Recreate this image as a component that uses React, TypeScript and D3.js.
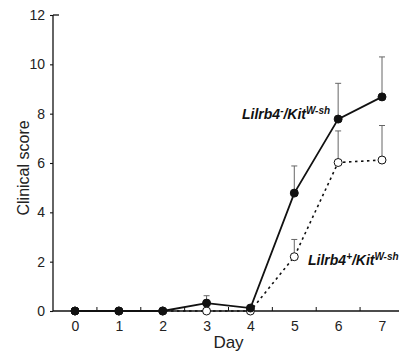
import React, { useRef, useEffect } from "react";
import * as d3 from "d3";

// data
const days = [0, 1, 2, 3, 4, 5, 6, 7];
const knockoutMean = [0, 0, 0, 0.32, 0.12, 4.78, 7.78, 8.68];
const knockoutUpper = [0, 0, 0, 0.62, 0.12, 5.88, 9.23, 10.3];
const wildMean = [0, 0, 0, 0, 0, 2.2, 6.02, 6.12];
const wildUpper = [0, 0, 0, 0, 0, 2.9, 7.3, 7.52];
const yTicks = [0, 2, 4, 6, 8, 10, 12];

const W = 399;
const H = 352;
const FONT = "'Liberation Sans', Arial, sans-serif";

const App = () => {
  const svgRef = useRef<SVGSVGElement>(null);

  useEffect(() => {
    const svg = d3.select(svgRef.current);
    svg.selectAll("*").remove();

    const x = d3.scaleLinear().domain([0, 7]).range([75, 382]);
    const y = d3.scaleLinear().domain([0, 12]).range([311, 15]);
    const axisX = 53;

    // y axis
    const yAxis = svg
      .append("g")
      .attr("transform", `translate(${axisX},0)`)
      .call(d3.axisLeft(y).tickValues(yTicks).tickSize(3).tickPadding(5));
    yAxis.select(".domain").attr("stroke", "#111").attr("stroke-width", 1.3).attr("d", `M0,${y(0)}V${y(12)}`);
    yAxis.selectAll(".tick line").attr("stroke", "#111").attr("stroke-width", 1.1);
    yAxis.selectAll(".tick text").attr("font-family", FONT).attr("font-size", 14).attr("fill", "#222");
    // top cap
    svg
      .append("line")
      .attr("x1", axisX)
      .attr("x2", axisX + 6)
      .attr("y1", y(12))
      .attr("y2", y(12))
      .attr("stroke", "#111")
      .attr("stroke-width", 1.3);

    // x axis
    svg
      .append("line")
      .attr("x1", axisX)
      .attr("x2", W)
      .attr("y1", y(0))
      .attr("y2", y(0))
      .attr("stroke", "#111")
      .attr("stroke-width", 1.3);
    const xAxis = svg
      .append("g")
      .attr("transform", `translate(0,${y(0)})`)
      .call(d3.axisBottom(x).tickValues(days).tickFormat(d3.format("d")).tickSize(0).tickPadding(10));
    xAxis.select(".domain").remove();
    xAxis.selectAll(".tick text").attr("font-family", FONT).attr("font-size", 14).attr("fill", "#222");
    svg
      .selectAll(".xminor")
      .data(days.slice(0, 7).map((d) => d + 0.5))
      .enter()
      .append("line")
      .attr("x1", (d) => x(d))
      .attr("x2", (d) => x(d))
      .attr("y1", y(0))
      .attr("y2", y(0) - 4)
      .attr("stroke", "#111")
      .attr("stroke-width", 1);

    // axis titles
    svg
      .append("text")
      .attr("transform", `translate(29,${y(5.8)}) rotate(-90)`)
      .attr("text-anchor", "middle")
      .attr("font-family", FONT)
      .attr("font-size", 16)
      .attr("fill", "#222")
      .text("Clinical score");
    svg
      .append("text")
      .attr("x", x(3.5))
      .attr("y", 348)
      .attr("text-anchor", "middle")
      .attr("font-family", FONT)
      .attr("font-size", 17)
      .attr("fill", "#222")
      .text("Day");

    const drawSeries = (mean: number[], upper: number[], filled: boolean) => {
      const pts = days.map((d, i) => ({ d, m: mean[i], u: upper[i] }));
      const line = d3
        .line<{ d: number; m: number }>()
        .x((p) => x(p.d))
        .y((p) => y(p.m));
      // error bars
      const eb = pts.filter((p) => p.u - p.m > 0.05);
      svg
        .selectAll(null)
        .data(eb)
        .enter()
        .append("path")
        .attr("d", (p) => `M${x(p.d)},${y(p.m)}V${y(p.u)}M${x(p.d) - 3},${y(p.u)}H${x(p.d) + 3}`)
        .attr("stroke", "#666")
        .attr("stroke-width", 1)
        .attr("fill", "none");
      svg
        .append("path")
        .datum(pts)
        .attr("d", line)
        .attr("fill", "none")
        .attr("stroke", "#111")
        .attr("stroke-width", filled ? 1.8 : 1.6)
        .attr("stroke-dasharray", filled ? null : "2.5,3.5");
      svg
        .selectAll(null)
        .data(pts)
        .enter()
        .append("circle")
        .attr("cx", (p) => x(p.d))
        .attr("cy", (p) => y(p.m))
        .attr("r", 4)
        .attr("fill", filled ? "#111" : "#fff")
        .attr("stroke", "#111")
        .attr("stroke-width", 1);
    };

    drawSeries(wildMean, wildUpper, false);
    drawSeries(knockoutMean, knockoutUpper, true);

    // series labels
    const label = (lx: number, ly: number, sup1: string) => {
      const t = svg
        .append("text")
        .attr("x", lx)
        .attr("y", ly)
        .attr("font-family", FONT)
        .attr("font-size", 14)
        .attr("font-weight", "bold")
        .attr("font-style", "italic")
        .attr("fill", "#111");
      t.append("tspan").text("Lilrb4");
      t.append("tspan").attr("font-size", 10).attr("dy", -5).text(sup1);
      t.append("tspan").attr("dy", 5).text("/Kit");
      t.append("tspan").attr("font-size", 10).attr("dy", -5).text("W-sh");
    };
    label(242, 119, "-");
    label(308, 265, "+");
  }, []);

  return (
    <svg
      ref={svgRef}
      width={W}
      height={H}
      style={{ position: "absolute", left: 0, top: 0, background: "#fff" }}
    />
  );
};

export default App;
